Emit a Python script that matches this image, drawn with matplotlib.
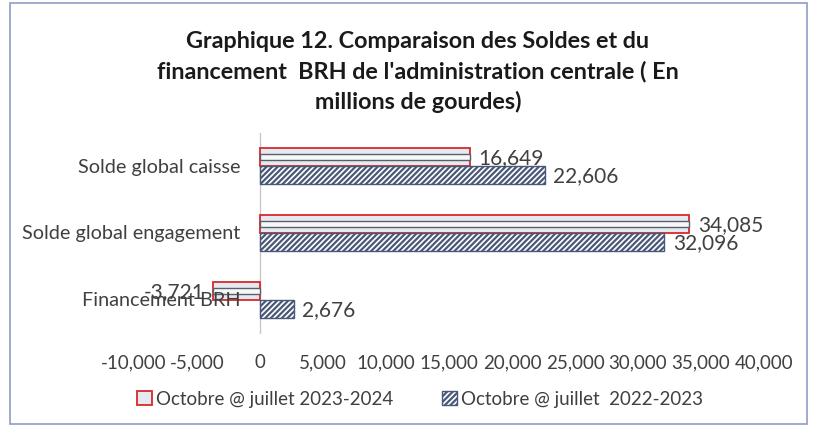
import matplotlib
matplotlib.use("Agg")
import matplotlib.pyplot as plt
from matplotlib.patches import Patch, Rectangle
import numpy as np

categories = ["Solde global caisse", "Solde global engagement", "Financement BRH"]
series_2324 = [16649, 34085, -3721]
series_2223 = [22606, 32096, 2676]
label_2324 = "Octobre @ juillet 2023-2024"
label_2223 = "Octobre @ juillet  2022-2023"
xticks = [-10000, -5000, 0, 5000, 10000, 15000, 20000, 25000, 30000, 35000, 40000]
title = ("Graphique 12. Comparaison des Soldes et du\n"
         "financement  BRH de l'administration centrale ( En\n"
         "millions de gourdes)")

FONT = ["Lato", "DejaVu Sans"]
plt.rcParams['font.family'] = FONT
plt.rcParams['hatch.linewidth'] = 1.6
TXT = "#404040"
FS = 13.5

fig = plt.figure(figsize=(8.17, 4.31), dpi=100)
fig.patch.set_facecolor("white")
# outer frame
fig.add_artist(Rectangle((10/817, 1-425/431), 797/817, 421/431, transform=fig.transFigure,
                         fill=False, edgecolor="#8d9ec4", lw=1.2))

ax = fig.add_axes([134/817, 1-334.5/431, 630/817, 201/431])
y = np.arange(len(categories))
h = 0.27
off = h/2

ax.barh(y - off, series_2324, height=h, color="#e6eaf0", edgecolor="#d42a2a", lw=1.3, zorder=3)
ax.barh(y - off, series_2324, height=h*0.35, color="#f7f8fa", edgecolor="#5a5f68", lw=1.0, zorder=4)
ax.barh(y + off, series_2223, height=h, color="white", edgecolor="#4a5878", hatch="//////", lw=1.0, zorder=3)

for yi, v in zip(y - off, series_2324):
    ax.annotate(f"{v:,}", (v, yi), xytext=(6 if v >= 0 else -6, 0), textcoords="offset points",
                ha="left" if v >= 0 else "right", va="center", fontsize=15, color=TXT, zorder=5)
for yi, v in zip(y + off, series_2223):
    ax.annotate(f"{v:,}", (v, yi), xytext=(6 if v >= 0 else -6, 0), textcoords="offset points",
                ha="left" if v >= 0 else "right", va="center", fontsize=15, color=TXT, zorder=5)

# category labels placed next to the vertical axis at x = 0
for yi, c in zip(y, categories):
    ax.annotate(c, (0, yi), xytext=(-14, 0), textcoords="offset points", ha="right", va="center",
                fontsize=14.3, color=TXT, zorder=6, annotation_clip=False)

ax.set_xlim(-10000, 40000)
ax.set_ylim(len(categories) - 0.5, -0.5)
ax.set_xticks(xticks)
ax.set_xticklabels([f"{t:,}" for t in xticks], fontsize=FS, color=TXT)
ax.set_yticks([])
ax.tick_params(axis="both", length=0)
ax.tick_params(axis="x", pad=14)
for s in ax.spines.values():
    s.set_visible(False)
ax.axvline(0, color="#c8c8c8", lw=1, zorder=2)
ax.set_facecolor("none")

fig.text(418/817, 1-72/431, title, ha="center", va="center", fontsize=16.8, fontweight="bold",
         color="#1a1a1a", linespacing=1.5)

handles = [Patch(facecolor="#e6eaf0", edgecolor="#d42a2a", lw=1.3),
           Patch(facecolor="white", edgecolor="#4a5878", hatch="//////", lw=1.0)]
fig.legend(handles, [label_2324, label_2223], loc="center", bbox_to_anchor=(420/817, 1-400/431),
           ncol=2, frameon=False, fontsize=FS, labelcolor=TXT, handlelength=0.8, handleheight=0.8,
           handletextpad=0.2, columnspacing=2.6)

fig.savefig("out.png", dpi=100, facecolor="white")
